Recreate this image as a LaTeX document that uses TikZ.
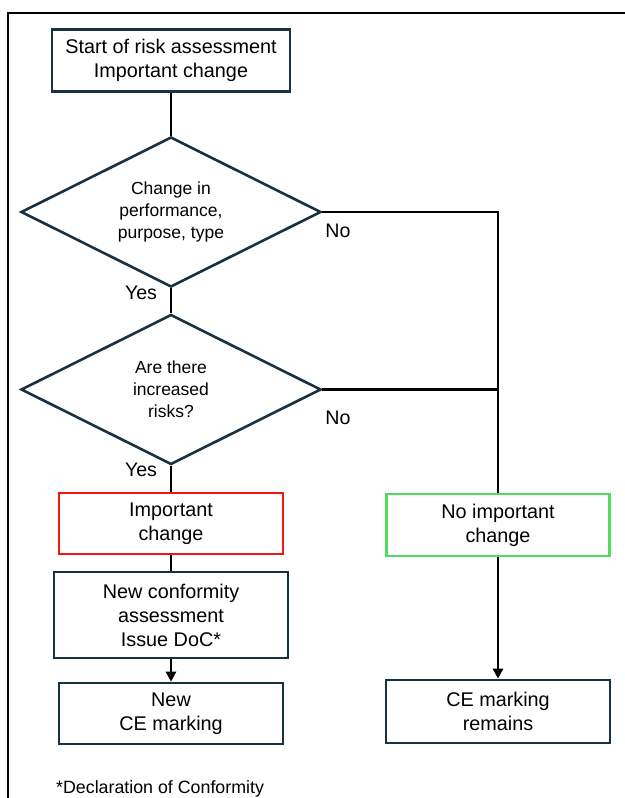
\documentclass[tikz,border=0pt]{standalone}
\usepackage{fontspec}
\setmainfont{Liberation Sans}
\usetikzlibrary{shapes.geometric,arrows.meta}
\definecolor{boxnavy}{RGB}{25,50,65}
\definecolor{impred}{RGB}{245,20,20}
\definecolor{okgreen}{RGB}{80,220,95}
\begin{document}
\begin{tikzpicture}[x=1pt, y=-1pt,
    box/.style={draw=boxnavy, line width=2.6pt, align=center, inner sep=0pt,
                font=\fontsize{19.8}{24}\selectfont},
    decision/.style={draw=boxnavy, line width=2.6pt, diamond, aspect=2, inner sep=0pt,
                align=center, minimum width=300, minimum height=150,
                font=\fontsize{17.5}{22}\selectfont},
    lbl/.style={inner sep=0pt, font=\fontsize{19.6}{24}\selectfont},
    link/.style={line width=2.6pt, black},
    >={Triangle[length=10pt,width=10pt]}]
                      \useasboundingbox (0,0) rectangle (624,798);
                      \draw[line width=2pt] (8,820) -- (8,13) -- (640,13);

                      \node[box, minimum width=238, minimum height=62] (start) at (171,60.5) {Start of risk assessment\\Important change};
                      \node[decision] (perf) at (171,212) {Change in\\performance,\\purpose, type};
                      \node[decision] (risk) at (171,389.5) {Are there\\increased\\risks?};
                      \node[box, draw=impred, minimum width=224, minimum height=61] (imp) at (171,523.5) {Important\\change};
                      \node[box, minimum width=234, minimum height=86] (conf) at (171,615) {New conformity\\assessment\\Issue DoC*};
                      \node[box, minimum width=224, minimum height=61] (newce) at (171,713.5) {New\\CE marking};
                      \node[box, draw=okgreen, minimum width=223, minimum height=62] (noimp) at (498,525) {No important\\change};
                      \node[box, minimum width=224, minimum height=63] (remain) at (498,711.5) {CE marking\\remains};
                      \coordinate (jperf) at (498,212);
                      \coordinate (jrisk) at (498,389.5);

                      \node[lbl] (yes1) at (141,293) {Yes};
                      \node[lbl] (yes2) at (141,470) {Yes};
                      \node[lbl] (no1) at (338,231) {No};
                      \node[lbl] (no2) at (338,418) {No};
                      \node[anchor=base west, inner sep=0pt, font=\fontsize{17.8}{22}\selectfont] (foot) at (56,793) {*Declaration of Conformity};

                      \draw[link] (start) -- (perf);
                      \draw[link] (perf) -- (risk);
                      \draw[link] (risk) -- (imp);
                      \draw[link] (imp) -- (conf);
                      \draw[link, ->] (conf) -- (newce);
                      \draw[link] (perf.east) -- (jperf) -- (noimp.north);
                      \draw[link] (risk.east) -- (jrisk);
                      \draw[link, ->] (noimp) -- (remain);
                  \end{tikzpicture}
\end{document}
